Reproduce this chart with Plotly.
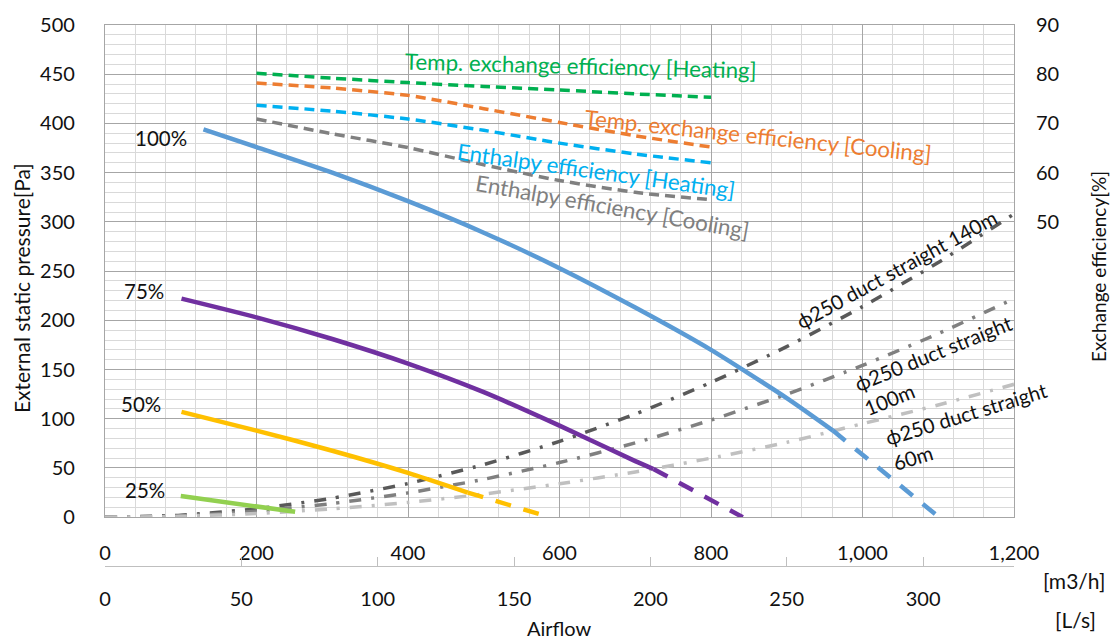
import plotly.graph_objects as go

# ---------------- data ----------------
# Fan curves (airflow m3/h, external static pressure Pa)
fan100_x = [130, 200, 300, 400, 500, 600, 700, 800, 900, 961]
fan100_y = [394, 376, 350, 321, 289, 253, 213, 170, 121, 88]
fan100_ext_x = [961, 1101]
fan100_ext_y = [88, 0]

fan75_x = [101, 200, 300, 400, 500, 600, 700, 724]
fan75_y = [222, 203, 181, 156, 127, 93, 57, 49]
fan75_ext_x = [724, 842]
fan75_ext_y = [49, 0]

fan50_x = [101, 200, 300, 400, 479]
fan50_y = [107, 88, 67.5, 45, 25]
fan50_ext_x = [479, 587]
fan50_ext_y = [25, 0]

fan25_x = [100, 200, 251]
fan25_y = [21.5, 11.5, 5.5]

# Duct resistance curves
duct_x = [0, 100, 200, 300, 400, 500, 600, 700, 800, 900, 1000, 1100, 1200]
duct140_y = [0, 2.1, 8.6, 19.3, 34.2, 53.5, 77, 104.8, 136.9, 173.3, 213.9, 258.8, 308]
duct100_y = [0, 1.5, 6.2, 13.9, 24.7, 38.5, 55.5, 75.5, 98.7, 124.9, 154.2, 186.5, 222]
duct60_y = [0, 0.9, 3.8, 8.5, 15, 23.5, 34, 46, 60, 76, 95, 114, 135]

# Exchange efficiencies (%)
eff_x = [200, 300, 400, 500, 600, 700, 800]
temp_heat = [80.2, 79.2, 78.3, 77.5, 76.8, 76.0, 75.3]
temp_cool = [78.2, 77.2, 75.7, 73.0, 70.2, 67.5, 65.2]
enth_heat = [73.7, 72.5, 70.9, 68.6, 66.0, 63.8, 62.0]
enth_cool = [70.9, 67.9, 65.1, 61.6, 58.4, 56.0, 54.5]

# Axis ticks
m3h_ticks = [0, 200, 400, 600, 800, 1000, 1200]
ls_ticks = [0, 50, 100, 150, 200, 250, 300]
pa_ticks = [0, 50, 100, 150, 200, 250, 300, 350, 400, 450, 500]
eff_ticks = [50, 60, 70, 80, 90]

FONT = "Lato"
FS = 20     # tick labels
FA = 22.3   # text annotations

fig = go.Figure()


def line(x, y, color, width, dash="solid", yaxis="y", smooth=0.6):
    fig.add_trace(go.Scatter(x=x, y=y, mode="lines", yaxis=yaxis,
                             line=dict(color=color, width=width, dash=dash,
                                       shape="spline" if smooth else "linear",
                                       smoothing=smooth if smooth else None),
                             hoverinfo="skip", showlegend=False))


DUCT_DASH = "12px,10px,3px,10px"
line(duct_x, duct140_y, "#595959", 3.5, DUCT_DASH)
line(duct_x, duct100_y, "#808080", 3.5, DUCT_DASH)
line(duct_x, duct60_y, "#C0C0C0", 3.5, DUCT_DASH)

FAN_DASH = "16px,13px"
line(fan25_x, fan25_y, "#92D050", 4.5, smooth=0)
line(fan50_x, fan50_y, "#FFC000", 4.5)
line(fan50_ext_x, fan50_ext_y, "#FFC000", 4.5, FAN_DASH, smooth=0)
line(fan75_x, fan75_y, "#7030A0", 4.5)
line(fan75_ext_x, fan75_ext_y, "#7030A0", 4.5, FAN_DASH, smooth=0)
line(fan100_x, fan100_y, "#5B9BD5", 4.5)
line(fan100_ext_x, fan100_ext_y, "#5B9BD5", 4.5, FAN_DASH, smooth=0)

EFF_DASH = "10px,6px"
line(eff_x, temp_heat, "#00B050", 3.5, EFF_DASH, "y2")
line(eff_x, temp_cool, "#ED7D31", 3.5, EFF_DASH, "y2")
line(eff_x, enth_heat, "#00B0F0", 3.5, EFF_DASH, "y2")
line(eff_x, enth_cool, "#808080", 3.5, EFF_DASH, "y2")

# helper trace so the L/s axis is drawn
fig.add_trace(go.Scatter(x=[0, 1200 / 3.6], y=[None, None], xaxis="x2", yaxis="y",
                         mode="lines", hoverinfo="skip", showlegend=False))

MAJ = "#A6A6A6"
MIN = "#D9D9D9"

fig.update_layout(
    width=1110, height=639,
    margin=dict(l=105, r=96, t=23, b=73),
    plot_bgcolor="white", paper_bgcolor="white",
    font=dict(family=FONT, size=FS, color="#111111"),
    showlegend=False,
    xaxis=dict(range=[0, 1200], tickvals=m3h_ticks, tickformat=",",
               showgrid=True, gridcolor=MAJ, gridwidth=1.3,
               minor=dict(dtick=40, tick0=0, showgrid=True, gridcolor=MIN, gridwidth=1.3),
               showline=True, linecolor=MAJ, linewidth=1.3, mirror=True,
               zeroline=False, ticks="", ticklabelstandoff=18, anchor="y"),
    xaxis2=dict(range=[0, 1200 / 3.6], tickvals=ls_ticks, overlaying="x",
                anchor="free", position=0, side="bottom",
                showgrid=False, zeroline=False, showline=True, linecolor="#BFBFBF",
                linewidth=1.3, ticks="inside", ticklen=9, tickcolor="#BFBFBF",
                tickwidth=1.3, ticklabelstandoff=15),
    yaxis=dict(range=[0, 500], tickvals=pa_ticks, domain=[0.0902, 1],
               showgrid=True, gridcolor=MAJ, gridwidth=1.3,
               minor=dict(dtick=10, tick0=0, showgrid=True, gridcolor=MIN, gridwidth=1.3),
               showline=True, linecolor=MAJ, linewidth=1.3, mirror=True,
               zeroline=False, ticks="", ticklabelstandoff=25),
    yaxis2=dict(range=[-10, 90], tickvals=eff_ticks, overlaying="y", side="right",
                showgrid=False, zeroline=False, showline=False, ticks="",
                ticklabelstandoff=21),
)

ann = []


def txt(text, x, y, color="#111111", angle=0, size=FA, xref="x", yref="y",
        xshift=0, yshift=0, align="center"):
    ann.append(dict(text=text, x=x, y=y, xref=xref, yref=yref, showarrow=False,
                    textangle=angle, xanchor="center", yanchor="middle",
                    xshift=xshift, yshift=yshift, align=align,
                    font=dict(family=FONT, size=size, color=color)))


# fan curve labels
txt("100%", 74, 385, size=20.5)
txt("75%", 51, 230, size=20.5)
txt("50%", 47, 115, size=20.5)
txt("25%", 53, 28, size=20.5)

# efficiency labels
txt("Temp. exchange efficiency [Heating]", 628, 459, "#00B050", 1.5)
txt("Temp. exchange efficiency [Cooling]", 862, 388, "#ED7D31", 6)
txt("Enthalpy efficiency [Heating]", 648, 352, "#00B0F0", 8)
txt("Enthalpy efficiency [Cooling]", 670, 316, "#808080", 10)

# duct labels
txt("ϕ250 duct straight 140m", 1045, 252, angle=-28.5, size=20.3)
txt("ϕ250 duct straight<br>100m", 1100, 155, angle=-22, align="left", size=20.3)
txt("ϕ250 duct straight<br>60m", 1142, 93, angle=-17, align="left", size=20.3)

# axis titles & units
txt("External static pressure[Pa]", 0, 0.5452, angle=-90, size=21,
    xref="paper", yref="paper", xshift=-84, yshift=-17)
txt("Exchange efficiency[%]", 1, 0.5525, angle=-90, size=19,
    xref="paper", yref="paper", xshift=84)
txt("Airflow", 0.5, 0, size=20, xref="paper", yref="paper", yshift=-62)
txt("[m3/h]", 1, 0, size=21, xref="paper", yref="paper", xshift=60, yshift=-14)
txt("[L/s]", 1, 0, size=21, xref="paper", yref="paper", xshift=61, yshift=-53)

fig.update_layout(annotations=ann)

fig.write_html("out.html", config={"displayModeBar": False},
               post_script="document.body.style.margin='0';document.body.style.padding='0';")
